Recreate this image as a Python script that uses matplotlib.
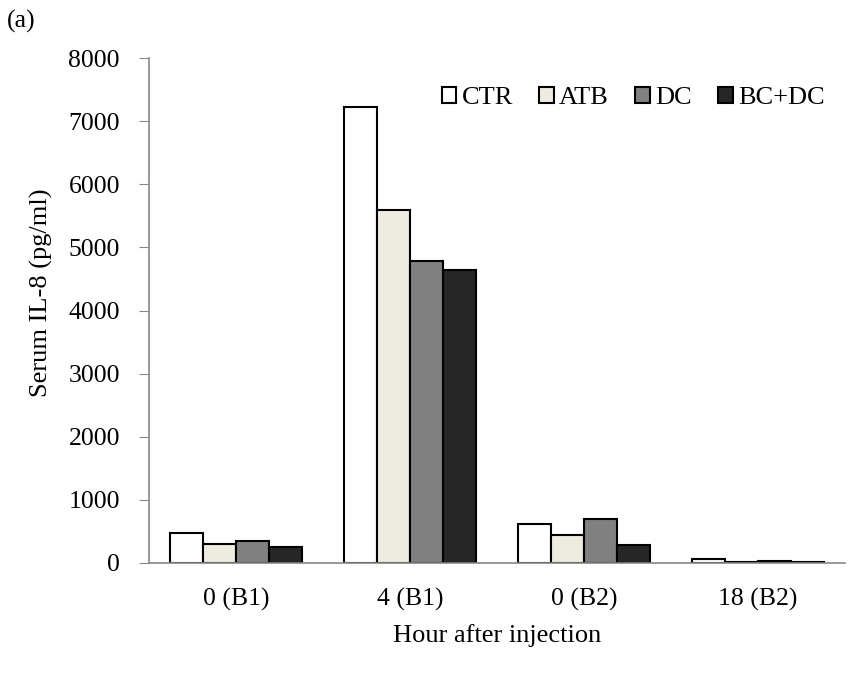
import numpy as np
import matplotlib.pyplot as plt

plt.rcParams['font.family'] = ['Liberation Serif', 'DejaVu Serif']

# values
categories = ['0 (B1)', '4 (B1)', '0 (B2)', '18 (B2)']
series = ['CTR', 'ATB', 'DC', 'BC+DC']
ctr = [480, 7230, 615, 65]
atb = [305, 5590, 435, 20]
dc = [355, 4790, 690, 35]
bcdc = [245, 4640, 290, 8]
colors = ['#ffffff', '#eeece1', '#808080', '#262626']

fig = plt.figure(figsize=(8.62, 6.75), dpi=100)
ax = fig.add_axes([0.173, 0.166, 0.807, 0.748])

x = np.arange(len(categories))
w = 0.19
for i, (name, vals) in enumerate(zip(series, [ctr, atb, dc, bcdc])):
    ax.bar(x + (i - 1.5) * w, vals, w, color=colors[i], edgecolor='black',
           linewidth=1.5, label=name)

ax.set_xlim(-0.5, 3.5)
ax.set_ylim(0, 8000)
ax.set_yticks(np.arange(0, 8001, 1000))
ax.set_xticks(x)
ax.set_xticklabels(categories)
ax.tick_params(axis='x', length=0, pad=18, labelsize=18.5)
ax.tick_params(axis='y', length=7, color='#888888', pad=14, labelsize=18.5)
for s in ['top', 'right']:
    ax.spines[s].set_visible(False)
for s in ['left', 'bottom']:
    ax.spines[s].set_color('#888888')
    ax.spines[s].set_linewidth(1.2)

ax.set_ylabel('Serum IL-8 (pg/ml)', fontsize=19, labelpad=11)
ax.yaxis.label.set_y(0.535)
ax.set_xlabel('Hour after injection', fontsize=19, labelpad=9)
fig.text(0.008, 0.985, '(a)', fontsize=18.5, va='top')

ax.legend(loc='upper right', bbox_to_anchor=(1.005, 0.99), ncol=4, frameon=False,
          fontsize=19, handlelength=0.55, handleheight=0.55, handletextpad=0.2,
          columnspacing=1.0)

fig.savefig('out.png')
